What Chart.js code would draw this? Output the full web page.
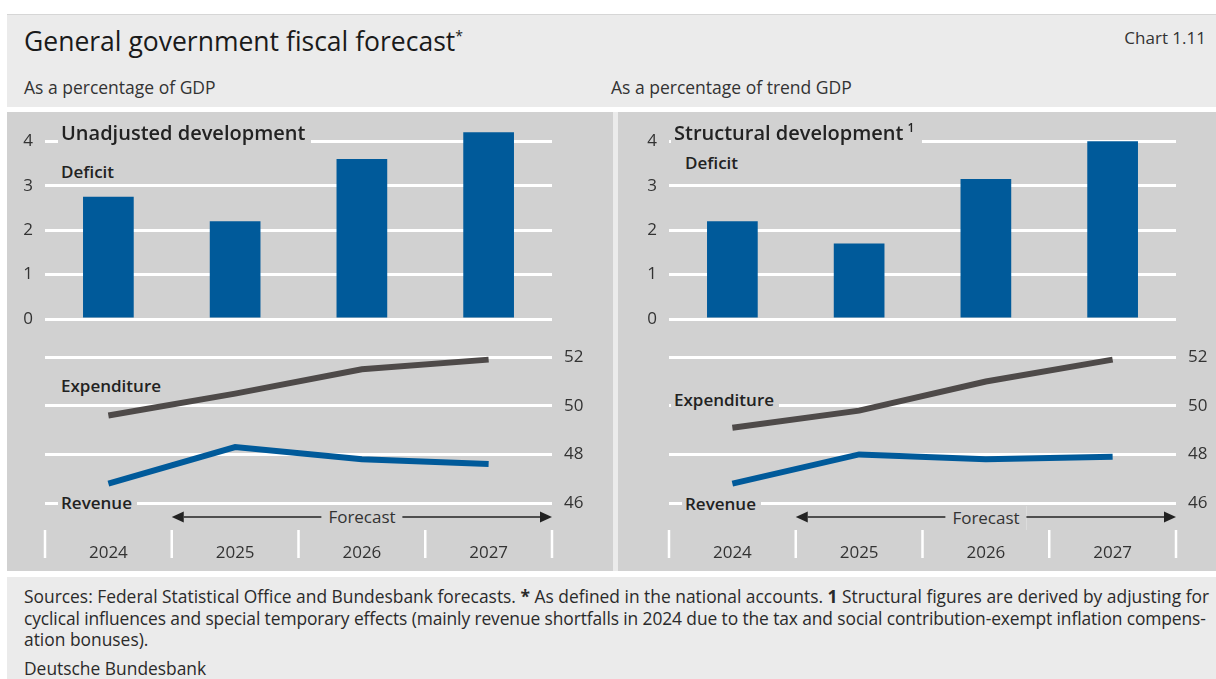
<!DOCTYPE html>
<html>
<head>
<meta charset="utf-8">
<script src="https://cdn.jsdelivr.net/npm/chart.js@4.4.1/dist/chart.umd.min.js"></script>
<style>
  body { margin: 0; background: #fff; font-family: "Open Sans", sans-serif; color: #1e1e1e; }
  .box { position: absolute; }
  #frame { left: 7px; top: 14px; width: 1209px; height: 665px; background: #ebebeb; border-top: 1px solid #d6d6d6; }
  .panel { background: #d1d1d1; }
  .txt { position: absolute; white-space: nowrap; line-height: 24px; }
  .lbl { background: #d1d1d1; font-weight: 600; padding: 0 3px; color: #222; }
  sup { line-height: 0; }
  canvas { position: absolute; }
</style>
</head>
<body>
<div id="frame" class="box"></div>
<div class="box" style="left:7px;top:107px;width:1209px;height:5px;background:#fff"></div>
<div class="box panel" style="left:7px;top:112px;width:606px;height:459px"></div>
<div class="box panel" style="left:618px;top:112px;width:598px;height:459px"></div>
<div class="box" style="left:7px;top:571px;width:1209px;height:6px;background:#fff"></div>

<div class="txt" style="left:24px;top:26px;font-size:26.5px;line-height:30px;color:#1a1a1a">General government fiscal forecast<sup style="font-size:14px">*</sup></div>
<div class="txt" style="right:10px;top:26px;font-size:17px;color:#333">Chart 1.11</div>
<div class="txt" style="left:24px;top:75px;font-size:17.5px;color:#333">As a percentage of GDP</div>
<div class="txt" style="left:611px;top:75px;font-size:17.5px;color:#333">As a percentage of trend GDP</div>

<canvas id="barL" width="606" height="260" style="left:7px;top:89px"></canvas>
<canvas id="lineL" width="606" height="236" style="left:7px;top:335px"></canvas>
<canvas id="barR" width="598" height="260" style="left:618px;top:89px"></canvas>
<canvas id="lineR" width="598" height="236" style="left:618px;top:335px"></canvas>

<div class="txt lbl" style="left:58px;top:120px;font-size:20px;line-height:26px;padding-right:6px">Unadjusted development</div>
<div class="txt lbl" style="left:58px;top:160px;font-size:17px">Deficit</div>
<div class="txt lbl" style="left:58px;top:374px;font-size:17px">Expenditure</div>
<div class="txt lbl" style="left:58px;top:491px;font-size:17px;padding-right:5px">Revenue</div>
<div class="txt" style="left:362px;top:505px;font-size:17px;background:#d1d1d1;padding:0 7px;transform:translateX(-50%);color:#333">Forecast</div>

<div class="txt lbl" style="left:671px;top:120px;font-size:20px;line-height:26px;padding-right:8px">Structural development<sup style="font-size:12px;margin-left:4px">1</sup></div>
<div class="txt lbl" style="left:682px;top:151px;font-size:17px">Deficit</div>
<div class="txt lbl" style="left:671px;top:388px;font-size:17px;padding-right:5px">Expenditure</div>
<div class="txt lbl" style="left:682px;top:492px;font-size:17px;padding-right:5px">Revenue</div>
<div class="txt" style="left:986px;top:506px;font-size:17px;background:#d1d1d1;padding:0 7px;transform:translateX(-50%);color:#333">Forecast</div>

<div class="txt" style="left:24px;top:586px;font-size:17.4px;line-height:21.7px;color:#2a2a2a">
Sources: Federal Statistical Office and Bundesbank forecasts. <b>*</b> As defined in the national accounts. <b>1</b> Structural figures are derived by adjusting for<br>
<span style="letter-spacing:-0.1px">cyclical influences and special temporary effects (mainly revenue shortfalls in 2024 due to the tax and social contribution-exempt inflation compens-</span><br>
ation bonuses).</div>
<div class="txt" style="left:24px;top:656px;font-size:17.4px;color:#2a2a2a">Deutsche Bundesbank</div>

<script>
const years = ['2024', '2025', '2026', '2027'];

// unadjusted, % of GDP
const deficitUnadj = [2.75, 2.2, 3.6, 4.2];
const expUnadj = [49.6, 50.5, 51.5, 51.9];
const revUnadj = [46.8, 48.3, 47.8, 47.6];

// structural, % of trend GDP
const deficitStruct = [2.2, 1.7, 3.15, 4.0];
const expStruct = [49.1, 49.8, 51.0, 51.9];
const revStruct = [46.8, 48.0, 47.8, 47.9];

const deficitTicks = [0, 1, 2, 3, 4];
const shareTicks = [46, 48, 50, 52];

const blue = '#005a9a';
const darkGrey = '#4e4a49';
const tickFont = { family: 'Open Sans', size: 17 };

Chart.defaults.animation = false;
Chart.defaults.responsive = false;
Chart.defaults.devicePixelRatio = 1;
Chart.defaults.plugins.legend.display = false;
Chart.defaults.plugins.tooltip.enabled = false;
Chart.defaults.color = '#333';

function makeBar(id, values, axisWidth, rightPad) {
    return new Chart(document.getElementById(id), {
        type: 'bar',
        data: {
            labels: years,
            datasets: [{
                data: values,
                backgroundColor: blue,
                categoryPercentage: 1,
                barPercentage: 0.4
            }]
        },
        options: {
            layout: { padding: { top: 30, bottom: 30, right: rightPad }, autoPadding: false },
            scales: {
                x: { display: false },
                y: {
                    min: 0,
                    max: 4.5,
                    afterBuildTicks: s => { s.ticks = deficitTicks.map(v => ({ value: v })); },
                    afterFit: s => { s.width = axisWidth; },
                    grid: { color: '#fff', lineWidth: 3, drawTicks: false },
                    border: { display: false },
                    ticks: { font: tickFont, padding: 12, color: '#333' }
                }
            }
        }
    });
}

// separators between the year labels and the forecast arrow under the x axis
const bottomAxisDecor = {
    id: 'bottomAxisDecor',
    afterDraw(chart) {
        const ctx = chart.ctx;
        const x = chart.scales.x;
        const area = chart.chartArea;
        const half = (x.getPixelForValue(1) - x.getPixelForValue(0)) / 2;
        const edges = years.map((_, i) => x.getPixelForValue(i) - half);
        edges.push(x.getPixelForValue(years.length - 1) + half);

        ctx.save();
        ctx.strokeStyle = '#fff';
        ctx.lineWidth = 2.5;
        edges.forEach(px => {
            ctx.beginPath();
            ctx.moveTo(px, area.bottom + 27);
            ctx.lineTo(px, area.bottom + 55);
            ctx.stroke();
        });

        const y = area.bottom + 14;
        const x0 = edges[1], x1 = edges[edges.length - 1];
        const head = 12;
        ctx.strokeStyle = '#222';
        ctx.fillStyle = '#222';
        ctx.lineWidth = 1.5;
        ctx.beginPath();
        ctx.moveTo(x0 + head, y);
        ctx.lineTo(x1 - head, y);
        ctx.stroke();
        ctx.beginPath();
        ctx.moveTo(x0, y); ctx.lineTo(x0 + head, y - 5.5); ctx.lineTo(x0 + head, y + 5.5);
        ctx.closePath(); ctx.fill();
        ctx.beginPath();
        ctx.moveTo(x1, y); ctx.lineTo(x1 - head, y - 5.5); ctx.lineTo(x1 - head, y + 5.5);
        ctx.closePath(); ctx.fill();
        ctx.restore();
    }
};

function makeLines(id, exp, rev, leftPad, axisWidth) {
    return new Chart(document.getElementById(id), {
        type: 'line',
        data: {
            labels: years,
            datasets: [
                { data: exp, borderColor: darkGrey, borderWidth: 6, pointRadius: 0, tension: 0, clip: false },
                { data: rev, borderColor: blue, borderWidth: 6, pointRadius: 0, tension: 0, clip: false }
            ]
        },
        options: {
            layout: { padding: { top: 21, left: leftPad }, autoPadding: false },
            scales: {
                x: {
                    offset: true,
                    afterFit: s => { s.height = 68; },
                    grid: { display: false },
                    border: { display: false },
                    ticks: { font: tickFont, padding: 32, color: '#333', maxRotation: 0 }
                },
                y: {
                    position: 'right',
                    min: 46,
                    max: 52,
                    afterBuildTicks: s => { s.ticks = shareTicks.map(v => ({ value: v })); },
                    afterFit: s => { s.width = axisWidth; },
                    grid: { color: '#fff', lineWidth: 3, drawTicks: false },
                    border: { display: false },
                    ticks: { font: tickFont, padding: 12, color: '#333' }
                }
            }
        },
        plugins: [bottomAxisDecor]
    });
}

makeBar('barL', deficitUnadj, 38, 61);
makeLines('lineL', expUnadj, revUnadj, 38, 61);
makeBar('barR', deficitStruct, 51, 40);
makeLines('lineR', expStruct, revStruct, 51, 40);
</script>
</body>
</html>
